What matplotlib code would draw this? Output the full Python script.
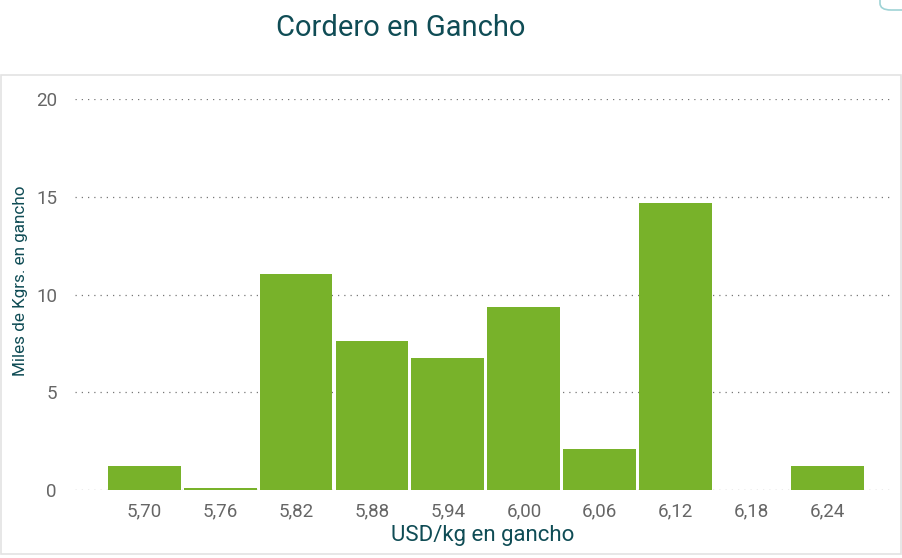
import matplotlib.pyplot as plt
from matplotlib.patches import Rectangle, FancyBboxPatch

plt.rcParams["font.family"] = ["Roboto", "DejaVu Sans"]

# datos
precios = ["5,70", "5,76", "5,82", "5,88", "5,94", "6,00", "6,06", "6,12", "6,18", "6,24"]
miles_kg = [1.23, 0.1, 11.05, 7.62, 6.75, 9.36, 2.1, 14.68, 0.0, 1.23]
yticks = [0, 5, 10, 15, 20]

verde = "#78b22a"
teal = "#0f4c55"
gris = "#666666"

fig = plt.figure(figsize=(9.02, 5.58), dpi=100)
W, H = 902, 558

# marco del panel
fig.patches.append(Rectangle((1 / W, 1 - 554 / H), 900 / W, 479 / H, transform=fig.transFigure,
                             facecolor="none", edgecolor="#e3e3e3", lw=1.2))
# esquina del boton arriba a la derecha
fig.patches.append(FancyBboxPatch((880 / W, 1 - 10 / H), 40 / W, 30 / H, transform=fig.transFigure,
                                  boxstyle="round,pad=0,rounding_size=0.012",
                                  facecolor="none", edgecolor="#9fd3d6", lw=1.2))

ax = fig.add_axes([75 / W, 1 - 490 / H, 815 / W, 391 / H])
x = list(range(len(precios)))
ax.bar(x, miles_kg, width=0.96, color=verde, zorder=2)

ax.set_xlim(-0.91, 9.82)
ax.set_ylim(0, 20)
ax.set_yticks(yticks)
ax.set_xticks(x)
ax.set_xticklabels(precios)
ax.yaxis.grid(True, linestyle=(0, (1, 4)), color="#777777", lw=0.9, zorder=1)
ax.tick_params(length=0, labelsize=13.5, colors=gris)
ax.tick_params(axis="x", pad=9)
ax.tick_params(axis="y", pad=13)
for s in ax.spines.values():
    s.set_visible(False)

ax.set_xlabel("USD/kg en gancho", fontsize=16, color=teal, labelpad=3)
ax.set_ylabel("Miles de Kgrs. en gancho", fontsize=12.3, color=teal)
ax.yaxis.set_label_coords(-0.058, 0.535)

fig.text(401 / W, 1 - 28 / H, "Cordero en Gancho", ha="center", va="center",
         fontsize=21, color=teal)

fig.savefig("out.png", dpi=100)
